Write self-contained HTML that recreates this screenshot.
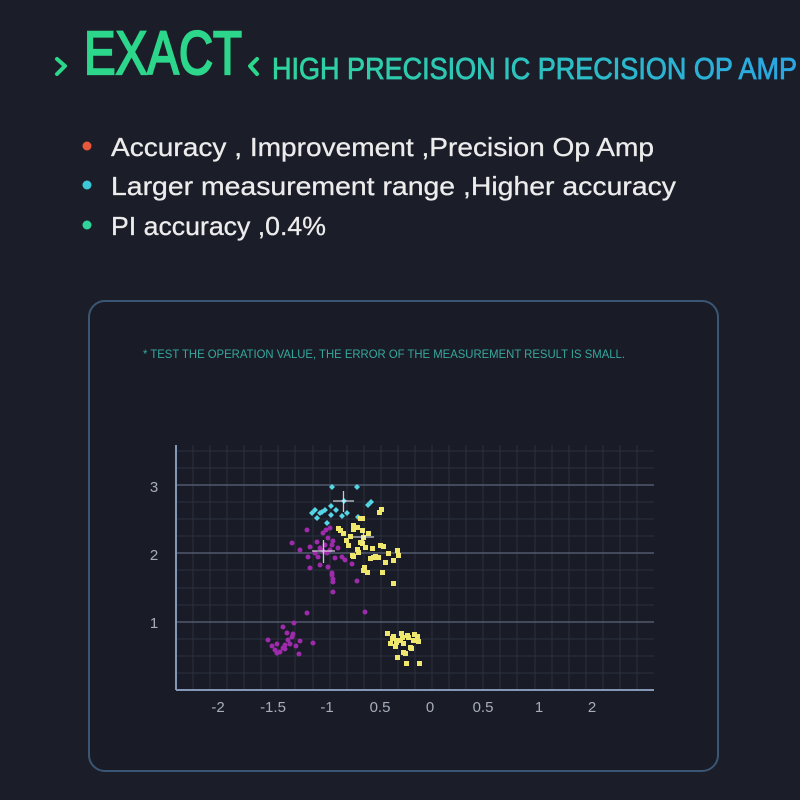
<!DOCTYPE html>
<html>
<head>
<meta charset="utf-8">
<style>
html,body{margin:0;padding:0;background:#1b1e29;}
svg{display:block;}
</style>
</head>
<body>
<svg width="800" height="800" viewBox="0 0 800 800" xmlns="http://www.w3.org/2000/svg">
<defs>
<linearGradient id="sub" x1="272" y1="0" x2="797" y2="0" gradientUnits="userSpaceOnUse">
<stop offset="0" stop-color="#2fd49c"/>
<stop offset="0.5" stop-color="#2cc2c0"/>
<stop offset="1" stop-color="#2aa6e4"/>
</linearGradient>
</defs>
<rect x="0" y="0" width="800" height="800" fill="#1b1e29"/>

<!-- Title -->
<polyline points="57,59 65,66 57,74" fill="none" stroke="#2cd68a" stroke-width="4" stroke-linecap="round" stroke-linejoin="round"/>
<text x="84" y="74" font-family="Liberation Sans, sans-serif" font-size="61" fill="#2cd68a" stroke="#2cd68a" stroke-width="2.2" textLength="158" lengthAdjust="spacingAndGlyphs">EXACT</text>
<polyline points="257,59 250,66 257,74" fill="none" stroke="#2cd68a" stroke-width="4" stroke-linecap="round" stroke-linejoin="round"/>
<text x="272" y="79" font-family="Liberation Sans, sans-serif" font-size="31" fill="url(#sub)" stroke="url(#sub)" stroke-width="0.8" textLength="525" lengthAdjust="spacingAndGlyphs">HIGH PRECISION IC PRECISION OP AMP</text>

<!-- Bullets -->
<circle cx="87" cy="146" r="4.5" fill="#e8573a"/>
<circle cx="87" cy="185" r="4.5" fill="#3cc8d8"/>
<circle cx="87" cy="225" r="4.5" fill="#2ed49a"/>
<g font-family="Liberation Sans, sans-serif" font-size="26" fill="#ececec" stroke="#ececec" stroke-width="0.3">
<text x="111" y="156" textLength="543" lengthAdjust="spacingAndGlyphs">Accuracy , Improvement ,Precision Op Amp</text>
<text x="111" y="195" textLength="565" lengthAdjust="spacingAndGlyphs">Larger measurement range ,Higher accuracy</text>
<text x="111" y="235" textLength="215" lengthAdjust="spacingAndGlyphs">PI accuracy ,0.4%</text>
</g>

<!-- Panel -->
<rect x="89" y="301" width="629" height="470" rx="16" ry="16" fill="#191c26" stroke="#3b5674" stroke-width="2"/>
<text x="143" y="358" font-family="Liberation Sans, sans-serif" font-size="12" fill="#36a89e" textLength="482" lengthAdjust="spacingAndGlyphs">* TEST THE OPERATION VALUE, THE ERROR OF THE MEASUREMENT RESULT IS SMALL.</text>

<!-- Grid -->
<g stroke="#2b303f" stroke-width="1">
<line x1="193" y1="445" x2="193" y2="690"/><line x1="210" y1="445" x2="210" y2="690"/><line x1="227" y1="445" x2="227" y2="690"/><line x1="244" y1="445" x2="244" y2="690"/><line x1="261" y1="445" x2="261" y2="690"/><line x1="278" y1="445" x2="278" y2="690"/><line x1="295" y1="445" x2="295" y2="690"/><line x1="313" y1="445" x2="313" y2="690"/><line x1="330" y1="445" x2="330" y2="690"/><line x1="347" y1="445" x2="347" y2="690"/><line x1="364" y1="445" x2="364" y2="690"/><line x1="381" y1="445" x2="381" y2="690"/><line x1="398" y1="445" x2="398" y2="690"/><line x1="415" y1="445" x2="415" y2="690"/><line x1="432" y1="445" x2="432" y2="690"/><line x1="449" y1="445" x2="449" y2="690"/><line x1="466" y1="445" x2="466" y2="690"/><line x1="483" y1="445" x2="483" y2="690"/><line x1="500" y1="445" x2="500" y2="690"/><line x1="517" y1="445" x2="517" y2="690"/><line x1="535" y1="445" x2="535" y2="690"/><line x1="552" y1="445" x2="552" y2="690"/><line x1="569" y1="445" x2="569" y2="690"/><line x1="586" y1="445" x2="586" y2="690"/><line x1="603" y1="445" x2="603" y2="690"/><line x1="620" y1="445" x2="620" y2="690"/><line x1="637" y1="445" x2="637" y2="690"/>
<line x1="176" y1="451" x2="654" y2="451"/><line x1="176" y1="468" x2="654" y2="468"/><line x1="176" y1="502" x2="654" y2="502"/><line x1="176" y1="519" x2="654" y2="519"/><line x1="176" y1="536" x2="654" y2="536"/><line x1="176" y1="570" x2="654" y2="570"/><line x1="176" y1="588" x2="654" y2="588"/><line x1="176" y1="605" x2="654" y2="605"/><line x1="176" y1="639" x2="654" y2="639"/><line x1="176" y1="656" x2="654" y2="656"/><line x1="176" y1="673" x2="654" y2="673"/>
</g>
<g stroke="#515a6e" stroke-width="1.5">
<line x1="176" y1="485" x2="654" y2="485"/>
<line x1="176" y1="553" x2="654" y2="553"/>
<line x1="176" y1="622" x2="654" y2="622"/>
</g>
<!-- Axes -->
<g stroke="#8497b6" stroke-width="2">
<line x1="176" y1="445" x2="176" y2="690"/>
<line x1="176" y1="690" x2="654" y2="690"/>
</g>

<!-- Tick labels -->
<g font-family="Liberation Sans, sans-serif" font-size="15" fill="#a6adbb" text-anchor="middle">
<text x="154" y="492">3</text>
<text x="154" y="560">2</text>
<text x="154" y="628">1</text>
<text x="218" y="712">-2</text>
<text x="273" y="712">-1.5</text>
<text x="327" y="712">-1</text>
<text x="380" y="712">0.5</text>
<text x="430" y="712">0</text>
<text x="483" y="712">0.5</text>
<text x="539" y="712">1</text>
<text x="592" y="712">2</text>
</g>

<!-- Magenta points -->
<g fill="#9e2aac">
<circle cx="307" cy="530" r="2.5"/><circle cx="292" cy="543" r="2.5"/><circle cx="310" cy="547" r="2.5"/><circle cx="317" cy="542" r="2.5"/><circle cx="323" cy="533" r="2.5"/><circle cx="328" cy="538" r="2.5"/><circle cx="332" cy="545" r="2.5"/><circle cx="333" cy="541" r="2.5"/><circle cx="323" cy="551" r="2.5"/><circle cx="308" cy="557" r="2.5"/><circle cx="318" cy="557" r="2.5"/><circle cx="310" cy="568" r="2.5"/><circle cx="320" cy="565" r="2.5"/><circle cx="328" cy="567" r="2.5"/><circle cx="335" cy="558" r="2.5"/><circle cx="342" cy="557" r="2.5"/><circle cx="345" cy="560" r="2.5"/><circle cx="352" cy="564" r="2.5"/><circle cx="332" cy="575" r="2.5"/><circle cx="333" cy="582" r="2.5"/><circle cx="357" cy="581" r="2.5"/><circle cx="333" cy="592" r="2.5"/><circle cx="327" cy="553" r="2.5"/><circle cx="330" cy="550" r="2.5"/><circle cx="325" cy="545" r="2.5"/><circle cx="320" cy="548" r="2.5"/><circle cx="315" cy="553" r="2.5"/><circle cx="338" cy="548" r="2.5"/><circle cx="326" cy="530" r="2.5"/><circle cx="330" cy="528" r="2.5"/><circle cx="300" cy="550" r="2.5"/><circle cx="332" cy="573" r="2.5"/><circle cx="333" cy="579" r="2.5"/><circle cx="307" cy="613" r="2.5"/><circle cx="365" cy="612" r="2.5"/>
<circle cx="294" cy="623" r="2.5"/><circle cx="283" cy="627" r="2.5"/><circle cx="287" cy="633" r="2.5"/><circle cx="293" cy="634" r="2.5"/><circle cx="268" cy="640" r="2.5"/><circle cx="277" cy="644" r="2.5"/><circle cx="285" cy="645" r="2.5"/><circle cx="290" cy="644" r="2.5"/><circle cx="300" cy="641" r="2.5"/><circle cx="296" cy="646" r="2.5"/><circle cx="313" cy="643" r="2.5"/><circle cx="275" cy="650" r="2.5"/><circle cx="280" cy="652" r="2.5"/><circle cx="285" cy="649" r="2.5"/><circle cx="299" cy="654" r="2.5"/><circle cx="277" cy="653" r="2.5"/><circle cx="288" cy="640" r="2.5"/><circle cx="292" cy="637" r="2.5"/><circle cx="272" cy="646" r="2.5"/><circle cx="283" cy="648" r="2.5"/>
</g>

<!-- Cyan points (diamonds) -->
<g fill="#55d6e6">
<path d="M332,484 l3,3 l-3,3 l-3,-3z"/><path d="M357,484 l3,3 l-3,3 l-3,-3z"/><path d="M344,498 l3,3 l-3,3 l-3,-3z"/><path d="M368,502 l3,3 l-3,3 l-3,-3z"/><path d="M371,499 l3,3 l-3,3 l-3,-3z"/><path d="M312,510 l3,3 l-3,3 l-3,-3z"/><path d="M317,515 l3,3 l-3,3 l-3,-3z"/><path d="M322,509 l3,3 l-3,3 l-3,-3z"/><path d="M325,507 l3,3 l-3,3 l-3,-3z"/><path d="M331,503 l3,3 l-3,3 l-3,-3z"/><path d="M331,512 l3,3 l-3,3 l-3,-3z"/><path d="M327,520 l3,3 l-3,3 l-3,-3z"/><path d="M342,513 l3,3 l-3,3 l-3,-3z"/><path d="M347,510 l3,3 l-3,3 l-3,-3z"/><path d="M358,514 l3,3 l-3,3 l-3,-3z"/><path d="M320,510 l3,3 l-3,3 l-3,-3z"/><path d="M315,507 l3,3 l-3,3 l-3,-3z"/><path d="M336,507 l3,3 l-3,3 l-3,-3z"/>
</g>

<!-- Yellow upper points -->
<g fill="#efe86c">
<rect x="377" y="510" width="5" height="5"/><rect x="379" y="507" width="5" height="5"/><rect x="358" y="516" width="5" height="5"/><rect x="355" y="525" width="5" height="5"/><rect x="351" y="527" width="5" height="5"/><rect x="338" y="528" width="5" height="5"/><rect x="341" y="531" width="5" height="5"/><rect x="360" y="528" width="5" height="5"/><rect x="361" y="535" width="5" height="5"/><rect x="348" y="534" width="5" height="5"/><rect x="346" y="543" width="5" height="5"/><rect x="360" y="541" width="5" height="5"/><rect x="351" y="554" width="5" height="5"/><rect x="356" y="550" width="5" height="5"/><rect x="368" y="556" width="5" height="5"/><rect x="373" y="554" width="5" height="5"/><rect x="378" y="543" width="5" height="5"/><rect x="381" y="544" width="5" height="5"/><rect x="395" y="548" width="5" height="5"/><rect x="396" y="553" width="5" height="5"/><rect x="383" y="560" width="5" height="5"/><rect x="380" y="570" width="5" height="5"/><rect x="362" y="565" width="5" height="5"/><rect x="365" y="570" width="5" height="5"/><rect x="371" y="555" width="5" height="5"/><rect x="376" y="555" width="5" height="5"/><rect x="391" y="558" width="5" height="5"/><rect x="391" y="581" width="5" height="5"/><rect x="336" y="526" width="5" height="5"/><rect x="350" y="553" width="5" height="5"/><rect x="358" y="540" width="5" height="5"/><rect x="363" y="545" width="5" height="5"/><rect x="351" y="523" width="5" height="5"/><rect x="360" y="516" width="5" height="5"/><rect x="366" y="531" width="5" height="5"/><rect x="355" y="547" width="5" height="5"/><rect x="344" y="538" width="5" height="5"/><rect x="370" y="546" width="5" height="5"/><rect x="386" y="551" width="5" height="5"/><rect x="361" y="568" width="5" height="5"/>
</g>
<!-- Yellow lower cluster -->
<g fill="#efe86c">
<rect x="385" y="631" width="5" height="5"/><rect x="388" y="641" width="5" height="5"/><rect x="395" y="638" width="5" height="5"/><rect x="400" y="635" width="5" height="5"/><rect x="405" y="633" width="5" height="5"/><rect x="415" y="634" width="5" height="5"/><rect x="416" y="639" width="5" height="5"/><rect x="401" y="641" width="5" height="5"/><rect x="393" y="644" width="5" height="5"/><rect x="408" y="645" width="5" height="5"/><rect x="401" y="650" width="5" height="5"/><rect x="395" y="655" width="5" height="5"/><rect x="404" y="661" width="5" height="5"/><rect x="417" y="661" width="5" height="5"/><rect x="391" y="634" width="5" height="5"/><rect x="399" y="631" width="5" height="5"/><rect x="406" y="635" width="5" height="5"/><rect x="412" y="632" width="5" height="5"/><rect x="409" y="646" width="5" height="5"/><rect x="403" y="651" width="5" height="5"/><rect x="398" y="638" width="5" height="5"/><rect x="394" y="640" width="5" height="5"/><rect x="411" y="638" width="5" height="5"/><rect x="390" y="636" width="5" height="5"/>
</g>

<!-- Crosses -->
<g stroke="#e8e8f0" stroke-width="1.3" opacity="0.85">
<line x1="333" y1="501" x2="354" y2="501"/><line x1="343.5" y1="491" x2="343.5" y2="512"/>
<line x1="353" y1="537" x2="374" y2="537"/><line x1="363.5" y1="530" x2="363.5" y2="544"/>
<line x1="312" y1="551" x2="335" y2="551"/><line x1="323.5" y1="540" x2="323.5" y2="563"/>
</g>
</svg>
</body>
</html>
